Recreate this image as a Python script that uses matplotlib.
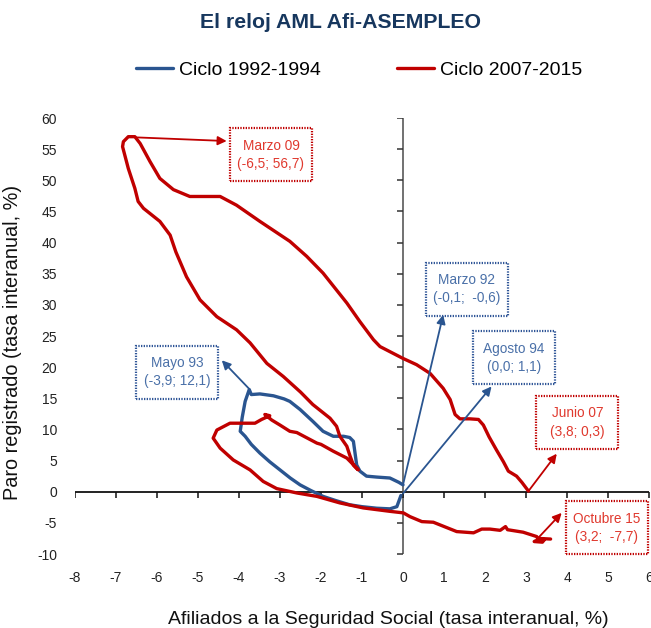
import matplotlib
matplotlib.use("Agg")
import matplotlib.pyplot as plt
from matplotlib.markers import TICKDOWN, TICKLEFT
from matplotlib.patches import Rectangle

plt.rcParams["font.family"] = ["Liberation Sans", "DejaVu Sans"]
plt.rcParams["axes.unicode_minus"] = False

TITLE = "El reloj AML Afi-ASEMPLEO"
X_LABEL = "Afiliados a la Seguridad Social (tasa interanual, %)"
Y_LABEL = "Paro registrado (tasa interanual, %)"

X_TICKS = list(range(-8, 7))
Y_TICKS = list(range(-10, 61, 5))

# ciclo 1992-1994 (afiliados, paro)
blue_x = [-0.05, -0.1, -0.15, -0.32, -0.64, -1.0, -1.3, -1.65, -1.95, -2.25,
          -2.51, -2.75, -3.0, -3.25, -3.49, -3.7, -3.85, -3.97, -3.92, -3.85,
          -3.75, -3.7, -3.49, -3.16, -2.9, -2.76, -2.51, -2.2, -1.95, -1.7,
          -1.45, -1.3, -1.21, -1.17, -1.13, -1.05, -0.89, -0.64, -0.32, -0.1, 0.0]
blue_y = [-0.6, -1.5, -2.4, -2.75, -2.65, -2.4, -2.1, -1.4, -0.75, 0.2,
          1.1, 2.2, 3.5, 4.8, 6.2, 7.6, 8.9, 9.7, 12.0, 14.5,
          16.4, 15.6, 15.7, 15.4, 14.9, 14.5, 13.2, 11.3, 9.7, 8.9,
          8.9, 8.7, 8.1, 6.2, 4.3, 3.3, 2.5, 2.35, 2.2, 1.5, 1.1]

# ciclo 2007-2015 (afiliados, paro)
red_x = [3.06, 2.9, 2.77, 2.57, 2.45, 2.28, 2.1, 1.96, 1.84, 1.63,
         1.39, 1.27, 1.15, 0.98, 0.66, 0.33, 0.0, -0.56, -0.72, -1.05,
         -1.37, -1.95, -2.35, -2.76, -3.49, -4.06, -4.46, -4.79, -5.2, -5.6,
         -5.93, -6.17, -6.41, -6.54, -6.7, -6.82, -6.84, -6.7, -6.54, -6.46,
         -6.33, -5.93, -5.68, -5.54, -5.28, -4.95, -4.54, -4.06, -3.73, -3.32,
         -2.92, -2.5, -2.2, -1.78, -1.62, -1.54, -1.37, -1.29, -1.21, -1.09,
         -1.25, -1.37, -1.7, -2.0, -2.1, -2.59, -2.76, -3.0, -3.2, -3.37,
         -3.25, -3.45, -3.61, -3.98, -4.22, -4.54, -4.63, -4.46, -4.14, -3.73,
         -3.41, -3.08, -2.59, -2.1, -1.54, -0.97, -0.32, 0.01, 0.17, 0.46,
         0.74, 1.31, 1.72, 1.92, 2.12, 2.37, 2.5, 2.55, 2.93, 3.26,
         3.3, 3.2, 3.4, 3.45, 3.3, 3.6]
red_y = [0.1, 1.5, 2.5, 3.3, 4.8, 6.7, 8.8, 10.7, 11.6, 11.7,
         11.7, 12.4, 14.8, 16.6, 19.0, 20.4, 21.4, 23.3, 24.4, 27.3,
         30.3, 35.1, 37.8, 40.2, 43.4, 46.0, 47.4, 47.4, 47.4, 48.5,
         50.3, 53.0, 55.9, 57.0, 57.0, 56.2, 55.4, 51.9, 48.7, 46.6,
         45.5, 43.4, 41.2, 38.5, 34.5, 30.8, 28.1, 26.0, 23.9, 20.6,
         18.5, 16.0, 14.0, 11.8, 10.5, 8.9, 7.3, 5.7, 4.3, 3.5,
         4.6, 5.4, 6.5, 7.6, 7.8, 9.5, 9.7, 10.7, 11.5, 12.4,
         12.2, 11.6, 11.0, 11.0, 11.0, 9.9, 8.6, 7.0, 5.1, 3.5,
         1.65, 0.5, -0.2, -0.75, -1.8, -2.6, -3.15, -3.4, -4.0, -4.8,
         -4.9, -6.4, -6.6, -6.0, -6.0, -6.2, -5.6, -6.1, -6.5, -7.2,
         -7.7, -8.0, -8.1, -7.7, -7.5, -7.6]

# notas: texto, punto de la serie, punta de la flecha
note_text = ["Marzo 09\n(-6,5; 56,7)", "Mayo 93\n(-3,9; 12,1)",
             "Marzo 92\n(-0,1;  -0,6)", "Agosto 94\n(0,0; 1,1)",
             "Junio 07\n(3,8; 0,3)", "Octubre 15\n(3,2;  -7,7)"]
note_from = [(-6.55, 56.9), (-3.75, 16.5), (0.0, 1.1),
             (0.0, -0.3), (3.06, 0.1), (3.3, -7.4)]
note_to = [(-4.3, 56.3), (-4.42, 21.1), (0.98, 28.4),
           (2.16, 16.9), (3.75, 6.1), (3.87, -3.4)]
note_cycle = ["red", "blue", "blue", "blue", "red", "red"]

BLUE = "#2A5590"
RED = "#C00000"
BOX_COLORS = {"blue": ("#2F5597", "#4A70A8"), "red": ("#C00000", "#E0392E")}
# box centres in data units, box size in data units
BOX_CENTRES = [(-3.22, 54.1), (-5.51, 19.2), (1.55, 32.5),
               (2.70, 21.5), (4.25, 11.1), (4.97, -5.8)]
BOX_W, BOX_H = 2.0, 8.5


def main():
    fig = plt.figure(figsize=(6.51, 6.28), dpi=100)
    ax = fig.add_axes([75 / 651, 1 - 554 / 628, 574 / 651, 436 / 628])

    ax.set_xlim(-8, 6)
    ax.set_ylim(-10, 60)
    ax.set_xticks(X_TICKS)
    ax.set_yticks(Y_TICKS)
    for s in ax.spines.values():
        s.set_visible(False)
    ax.tick_params(length=0, labelsize=10, colors="#222222")
    ax.tick_params(axis="x", pad=12)
    ax.tick_params(axis="y", pad=13)

    # cruz de ejes en el origen
    ax.axhline(0, color="#111111", lw=1.3, zorder=1)
    ax.axvline(0, color="#666666", lw=1.3, zorder=1)
    ax.plot(X_TICKS, [0] * len(X_TICKS), ls="none", marker=TICKDOWN,
            ms=4, mew=1.1, color="#111111", zorder=1)
    ax.plot([0] * len(Y_TICKS), Y_TICKS, ls="none", marker=TICKLEFT,
            ms=4, mew=1.1, color="#333333", zorder=1)

    ax.plot(blue_x, blue_y, color=BLUE, lw=2.4, solid_joinstyle="round",
            solid_capstyle="round", label="Ciclo 1992-1994", zorder=3)
    ax.plot(red_x, red_y, color=RED, lw=2.4, solid_joinstyle="round",
            solid_capstyle="round", label="Ciclo 2007-2015", zorder=3)

    for text, p0, p1, cyc, c in zip(note_text, note_from, note_to,
                                    note_cycle, BOX_CENTRES):
        line_col, text_col = BOX_COLORS[cyc]
        arrow_col = BLUE if cyc == "blue" else RED
        ax.annotate("", xy=p1, xytext=p0,
                    arrowprops=dict(arrowstyle="-|>", color=arrow_col, lw=1.3,
                                    mutation_scale=13, shrinkA=0, shrinkB=0),
                    zorder=4, annotation_clip=False)
        ax.add_patch(Rectangle((c[0] - BOX_W / 2, c[1] - BOX_H / 2), BOX_W, BOX_H,
                               facecolor="white", edgecolor=line_col, lw=1.6,
                               ls=(0, (0.6, 0.6)), zorder=5, clip_on=False))
        ax.text(c[0], c[1], text, ha="center", va="center", fontsize=9.8,
                color=text_col, linespacing=1.4, zorder=6)

    fig.text(341 / 651, 1 - 22 / 628, TITLE, ha="center", va="center",
             fontsize=15.3, fontweight="bold", color="#17375E")
    fig.legend(loc="center", bbox_to_anchor=(359 / 651, 1 - 70 / 628),
               ncol=2, frameon=False, fontsize=14, handlelength=1.9,
               handletextpad=0.3, columnspacing=3.9)
    fig.text(388 / 651, 1 - 620 / 628, X_LABEL, ha="center", va="center",
             fontsize=14, color="#111111")
    fig.text(13 / 651, 1 - 342 / 628, Y_LABEL, ha="center", va="center",
             rotation=90, fontsize=14.3, color="#111111")

    fig.savefig("out.png", dpi=100)


if __name__ == "__main__":
    main()
